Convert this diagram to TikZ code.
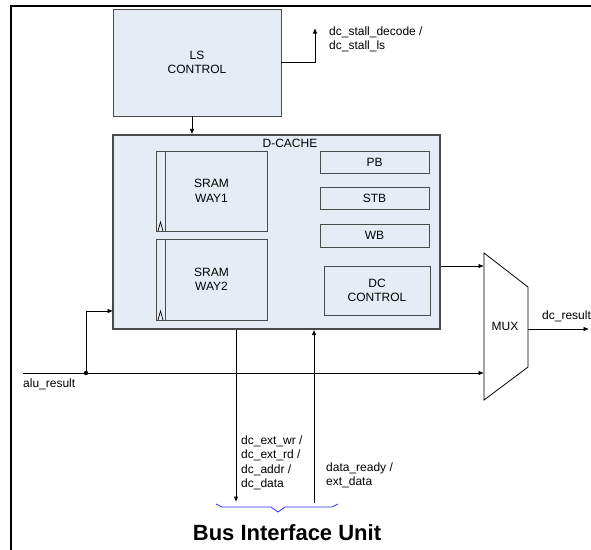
\documentclass[tikz,border=0pt]{standalone}
\usepackage{fontspec}
\setmainfont{Liberation Sans}
\usetikzlibrary{arrows.meta}
\definecolor{boxfill}{HTML}{E6ECF6}
\definecolor{boxline}{HTML}{4A4A4A}
\definecolor{bracecol}{HTML}{3030F0}
\tikzset{
  blk/.style={draw=boxline, fill=boxfill, line width=0.9pt, inner sep=0pt, align=center,
    font=\fontsize{12}{14.5}\selectfont},
  lbl/.style={inner sep=0pt, align=left, font=\fontsize{12}{14.5}\selectfont},
  conn/.style={draw=black, line width=0.8pt},
  arr/.style={conn, -{Latex[length=5.5pt,width=4.5pt]}},
}
\begin{document}
\begin{tikzpicture}[x=1pt,y=-1pt]
\useasboundingbox (0,0) rectangle (591,549);
\fill[white] (0,0) rectangle (591,549);
% frame
\draw[line width=2.4pt] (11,560) -- (11,6) -- (600,6);

% LS control
\node[blk, minimum width=168pt, minimum height=107pt] (ls) at (197,62.5) {LS\\CONTROL};
% D-cache
\node[blk, line width=1.2pt, minimum width=327pt, minimum height=194pt] (dc) at (276.5,232) {};
\node[lbl] (dclbl) at (290,143) {D-CACHE};
% SRAMs
\node[blk, minimum width=111pt, minimum height=80pt] (s1) at (211.5,191) {SRAM\\WAY1};
\node[blk, minimum width=111pt, minimum height=81pt] (s2) at (211.5,279.5) {SRAM\\WAY2};
\draw[boxline, line width=0.9pt] (156,151) rectangle (165,231);
\draw[boxline, line width=0.9pt] (156,239) rectangle (165,320);
\draw[black, line width=0.7pt] (158,231) -- (160.5,222) -- (163,231);
\draw[black, line width=0.7pt] (158,320) -- (160.5,311) -- (163,320);
% buffers
\node[blk, minimum width=109pt, minimum height=22pt] (pb) at (374.5,162) {PB};
\node[blk, minimum width=109pt, minimum height=22pt] (stb) at (374.5,198) {STB};
\node[blk, minimum width=109pt, minimum height=23pt] (wb) at (374.5,235.5) {WB};
\node[blk, minimum width=106pt, minimum height=49pt] (dcc) at (377,290.5) {DC\\CONTROL};
% MUX
\coordinate (mtl) at (484,253);
\coordinate (mtr) at (528,287);
\coordinate (mbr) at (528,367);
\coordinate (mbl) at (484,400);
\draw[black, line width=0.8pt, fill=white] (mtl) -- (mtr) -- (mbr) -- (mbl) -- cycle;
\node[lbl] (mux) at (505,326) {MUX};

% stall output
\coordinate (stall) at (315,28);
\draw[arr] (ls.east) -| (stall);
\node[lbl, anchor=west] (stalltxt) at (329,39.5) {dc\_stall\_decode /\\dc\_stall\_ls};
% LS -> D-cache
\draw[arr] ([xshift=-5pt]ls.south) -- ([xshift=-5pt]ls.south |- dc.north);

% alu_result
\coordinate (aluin) at (23,373);
\coordinate (br) at (86,373);
\coordinate (muxa) at (484,373);
\coordinate (muxb) at (484,266);
\coordinate (dcin) at (113,311);
\draw[arr] (aluin) -- (muxa);
\draw[arr] (br) |- (dcin);
\fill (br) circle (2.2pt);
\node[lbl, anchor=west] (alutxt) at (23,384) {alu\_result};
% dcache -> mux
\draw[arr] (dc.east |- muxb) -- (muxb);
% mux -> dc_result
\coordinate (res) at (589,329);
\draw[arr] (528,329) -- (res);
\node[lbl, anchor=west] (restxt) at (542,316) {dc\_result};

% bus lines
\coordinate (busout) at (236,502);
\coordinate (busin) at (314,503);
\draw[arr] (dc.south -| busout) -- (busout);
\draw[arr] (busin) -- (busin |- dc.south);
\node[lbl, anchor=west] (outtxt) at (241,463) {dc\_ext\_wr /\\dc\_ext\_rd /\\dc\_addr /\\dc\_data};
\node[lbl, anchor=west, font=\fontsize{12}{13.5}\selectfont] (intxt) at (326,475.5) {data\_ready /\\ext\_data};

% brace
\draw[bracecol, line width=0.8pt] (216,504) -- (222,507) -- (271,507) -- (278,512) -- (285,507) -- (332,507) -- (338,504);
\node[inner sep=0pt, font=\fontsize{22}{24}\selectfont\bfseries] (biu) at (287,533) {Bus Interface Unit};
\end{tikzpicture}
\end{document}
